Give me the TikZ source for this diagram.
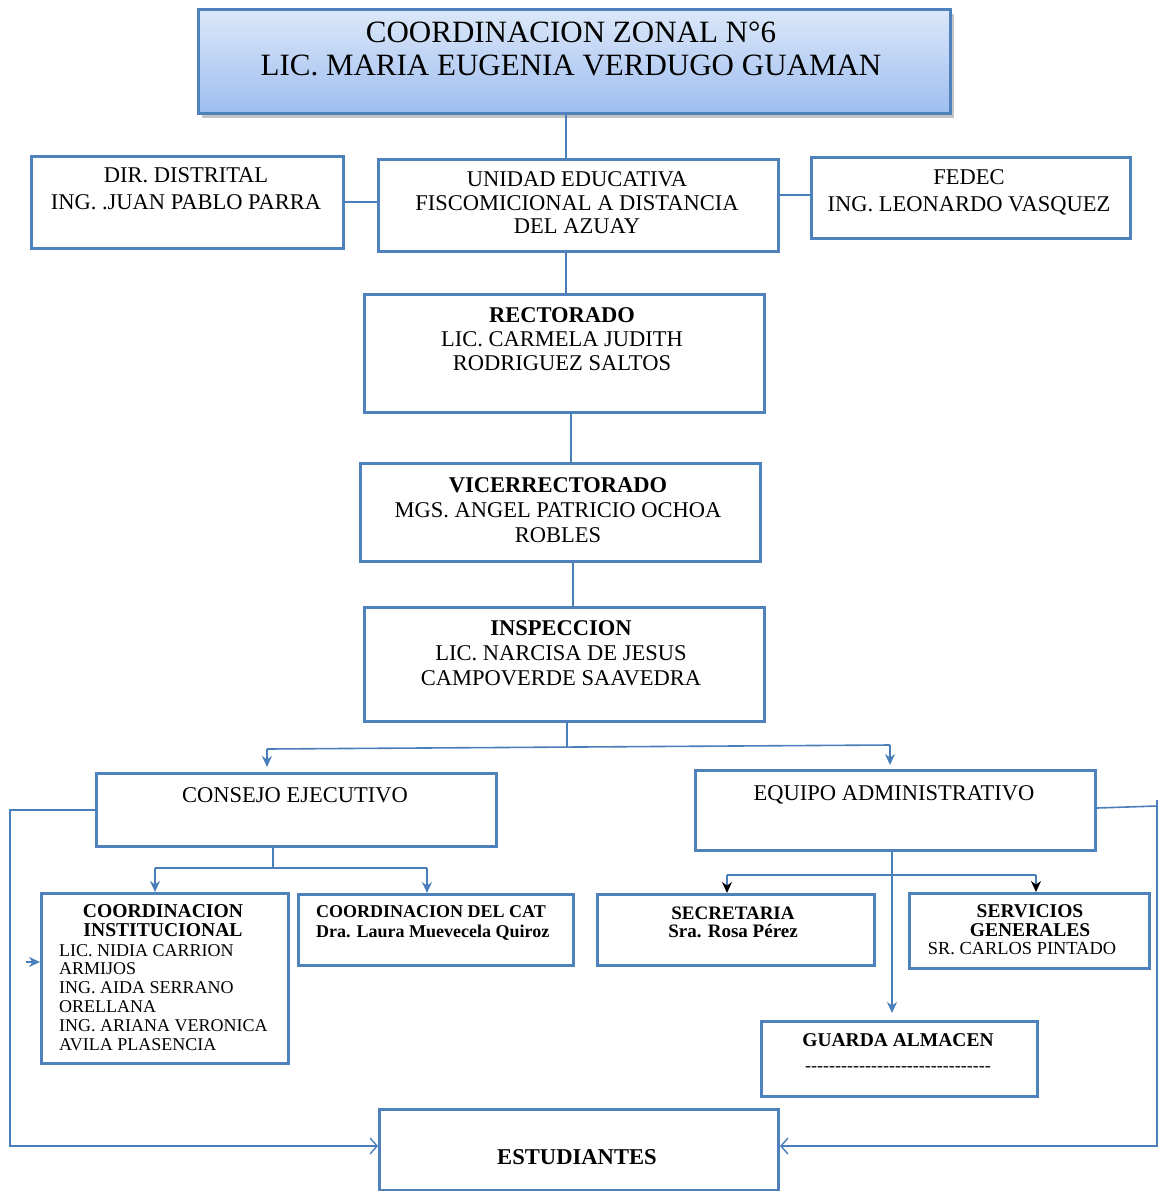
\documentclass[tikz,border=0pt]{standalone}
\usepackage{fontspec}
\setmainfont{Liberation Serif}
\usetikzlibrary{arrows.meta,shadows,calc}
\definecolor{bbord}{HTML}{4F81BD}
\definecolor{bline}{HTML}{4A7EBB}
\definecolor{gtop}{HTML}{DCE8F9}
\definecolor{gbot}{HTML}{9EBDF0}
\newcommand\myfs[2]{\fontsize{#1}{#2}\selectfont}
\newcommand\hy{\hbox{-}}
\newcommand\hyten{\hy\hy\hy\hy\hy\hy\hy\hy\hy\hy}
\tikzset{
  box/.style={draw=bbord, line width=3pt, rectangle, inner sep=0pt, anchor=north west},
  txt/.style={inner sep=0pt, align=center, anchor=north, text=black},
  conn/.style={draw=bline, line width=1.6pt},
  tip/.style={-{Stealth[length=11pt,width=10pt]}},
  btip/.style={-{Stealth[length=11pt,width=10pt,color=black]}},
  barb/.style={-{Straight Barb[length=7pt,width=16pt,line width=1.4pt]}}
}
\begin{document}
\begin{tikzpicture}[x=1pt,y=-1pt]
\useasboundingbox (0,0) rectangle (1163,1191);
% boxes
\node[box, top color=gtop, bottom color=gbot, drop shadow={shadow xshift=3pt, shadow yshift=-4pt, fill=black!45}, minimum width=752pt, minimum height=104pt] (title) at (197,8) {};
\node[box, minimum width=312pt, minimum height=92pt] (dir) at (30,155) {};
\node[box, minimum width=400pt, minimum height=92pt] (unidad) at (377,158) {};
\node[box, minimum width=319pt, minimum height=81pt] (fedec) at (810,156) {};
\node[box, minimum width=400pt, minimum height=118pt] (rect) at (363,293) {};
\node[box, minimum width=400pt, minimum height=98pt] (vice) at (359,462) {};
\node[box, minimum width=400pt, minimum height=114pt] (insp) at (363,606) {};
\node[box, minimum width=400pt, minimum height=73pt] (consejo) at (95,772) {};
\node[box, minimum width=400pt, minimum height=80pt] (equipo) at (694,769) {};
\node[box, minimum width=247pt, minimum height=170pt] (ci) at (40,892) {};
\node[box, minimum width=275pt, minimum height=71pt] (cat) at (297,893) {};
\node[box, minimum width=277pt, minimum height=71pt] (sec) at (596,893) {};
\node[box, minimum width=240pt, minimum height=75pt] (serv) at (908,892) {};
\node[box, minimum width=276pt, minimum height=75pt] (guarda) at (760,1020) {};
\node[box, minimum width=399pt, minimum height=81pt] (est) at (378,1108) {};
% texts
\node[txt, font={\myfs{31}{33}}] (titlet) at (571,22) {COORDINACION ZONAL N°6\\LIC. MARIA EUGENIA VERDUGO GUAMAN};
\node[txt, font={\myfs{22.5}{27}}] (dirt) at (186,167.5) {DIR. DISTRITAL\\ING. .JUAN PABLO PARRA};
\node[txt, font={\myfs{22.5}{23.5}}] (unidadt) at (577,171.5) {UNIDAD EDUCATIVA\\FISCOMICIONAL A DISTANCIA\\DEL AZUAY};
\node[txt, font={\myfs{22.5}{27}}] (fedect) at (969,169.5) {FEDEC\\ING. LEONARDO VASQUEZ};
\node[txt, font={\myfs{22.5}{24}}] (rectt) at (562,307.5) {\textbf{RECTORADO}\\LIC. CARMELA JUDITH\\RODRIGUEZ SALTOS};
\node[txt, font={\myfs{22.5}{25}}] (vicet) at (558,477.5) {\textbf{VICERRECTORADO}\\MGS. ANGEL PATRICIO OCHOA\\ROBLES};
\node[txt, font={\myfs{22.5}{25}}] (inspt) at (561,620.5) {\textbf{INSPECCION}\\LIC. NARCISA DE JESUS\\CAMPOVERDE SAAVEDRA};
\node[txt, font={\myfs{22.5}{24}}] (consejot) at (295,787.5) {CONSEJO EJECUTIVO};
\node[txt, font={\myfs{22.5}{24}}] (equipot) at (894,785.5) {EQUIPO ADMINISTRATIVO};
\node[txt, font={\myfs{19.6}{19}\bfseries}] (cit) at (163,904.5) {COORDINACION\\INSTITUCIONAL};
\node[txt, font={\myfs{18}{18.8}}, align=left, anchor=north west] (cin) at (59,944) {LIC. NIDIA CARRION\\ARMIJOS\\ING. AIDA SERRANO\\ORELLANA\\ING. ARIANA VERONICA\\AVILA PLASENCIA};
\node[txt, font={\myfs{18}{20}\bfseries}, align=left, anchor=north west] (catt) at (316,905) {COORDINACION DEL CAT\\Dra. Laura Muevecela Quiroz};
\node[txt, font={\myfs{19}{18.5}\bfseries}] (sect) at (733,906.5) {SECRETARIA\\Sra. Rosa Pérez};
\node[txt, font={\myfs{19.5}{19}\bfseries}] (servt) at (1030,904.5) {SERVICIOS\\GENERALES};
\node[txt, font={\myfs{18.4}{19}}] (servn) at (1022,942) {SR. CARLOS PINTADO};
\node[txt, font={\myfs{19.5}{24}\bfseries}] (guardat) at (898,1033.5) {GUARDA ALMACEN\\[1pt]\mdseries\myfs{18}{20}\hyten\hyten\hyten\hy};
\node[txt, font={\myfs{22.6}{24}\bfseries}] (estt) at (577,1149.5) {ESTUDIANTES};
% connectors
\draw[conn] (566,0 |- title.south) -- (566,0 |- unidad.north);
\draw[conn] (dir.east |- 0,202) -- (unidad.west |- 0,202);
\draw[conn] (unidad.east |- 0,195) -- (fedec.west |- 0,195);
\draw[conn] (566,0 |- unidad.south) -- (566,0 |- rect.north);
\draw[conn] (571,0 |- rect.south) -- (571,0 |- vice.north);
\draw[conn] (573,0 |- vice.south) -- (573,0 |- insp.north);
\coordinate (j1) at (567,747);
\draw[conn] (567,0 |- insp.south) -- (j1);
\draw[conn] (267,749) -- (890,745);
\draw[conn, tip, shorten >=5pt] (267,749) -- (267,0 |- consejo.north);
\draw[conn, tip, shorten >=4pt] (890,745) -- (890,0 |- equipo.north);
\draw[conn] (273,0 |- consejo.south) -- (273,868);
\draw[conn] (155,868) -- (427,868);
\draw[conn, tip] (155,868) -- (155,0 |- ci.north);
\draw[conn, tip] (427,868) -- (427,0 |- cat.north);
\draw[conn, barb] (consejo.west |- 0,810) -- (10,810) -- (10,1146) -- (est.west |- 0,1146);
\draw[conn, tip] (26,962) -- (ci.west |- 0,962);
\draw[conn, tip, shorten >=7pt] (892,0 |- equipo.south) -- (892,0 |- guarda.north);
\draw[conn] (727,875) -- (1036,875);
\draw[conn, btip] (727,875) -- (727,0 |- sec.north);
\draw[conn, btip] (1036,875) -- (1036,0 |- serv.north);
\draw[conn] (equipo.east |- 0,808) -- (1157,806);
\draw[conn, barb] (1157,800) -- (1157,1146) -- (est.east |- 0,1146);
\end{tikzpicture}
\end{document}
